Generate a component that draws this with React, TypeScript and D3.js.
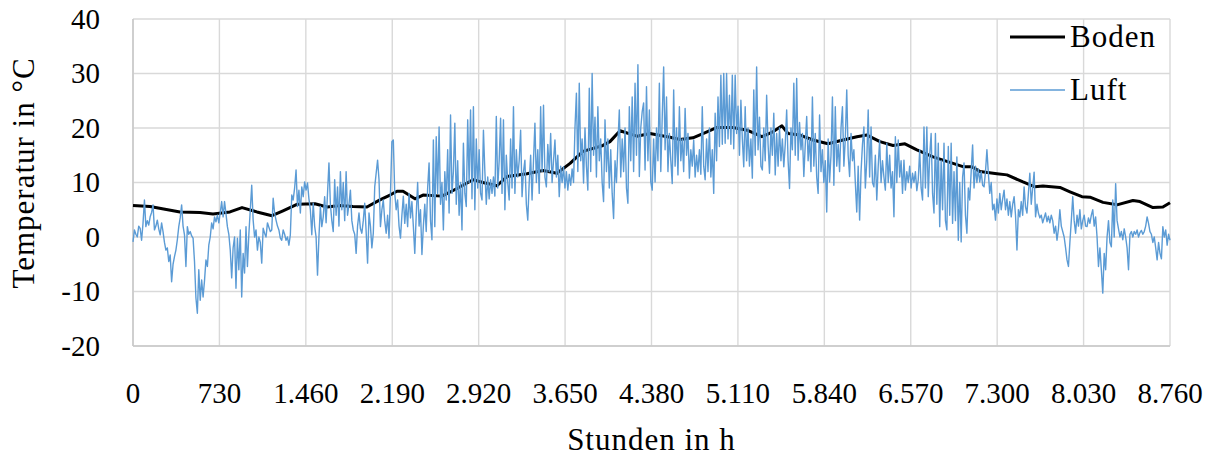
import React, { useMemo } from 'react';
import * as d3 from 'd3';

const WIDTH = 1216,
    HEIGHT = 458;

const MARGIN = {
    LEFT: 133,
    RIGHT: 46,
    TOP: 19,
    BOTTOM: 112
};

const FONT = '"Liberation Serif", "Times New Roman", serif';

// x axis: hours of the year, y axis: temperature in °C
const xTicks = [0, 730, 1460, 2190, 2920, 3650, 4380, 5110, 5840, 6570, 7300, 8030, 8760];
const yTicks = [-20, -10, 0, 10, 20, 30, 40];

const seriesNames = ['Boden', 'Luft'];
const seriesColors = ['#000000', '#5B9BD5'];

// soil temperature (hour, °C)
const bodenHours = [
    0, 144, 397, 566, 676, 819, 921, 1047, 1174, 1267, 1385, 1537, 1639, 1748, 1858, 1976,
    2086, 2171, 2230, 2281, 2382, 2450, 2610, 2737, 2872, 2957, 3075, 3159, 3328, 3463, 3582,
    3692, 3801, 3970, 4029, 4114, 4257, 4367, 4536, 4621, 4730, 4849, 4933, 5068, 5187, 5313,
    5406, 5482, 5533, 5634, 5744, 5871, 5998, 6115, 6200, 6310, 6420, 6521, 6622, 6758, 6901,
    7011, 7087, 7155, 7298, 7383, 7518, 7619, 7687, 7830, 7915, 8016, 8084, 8194, 8312, 8447,
    8506, 8616, 8700, 8760
];
const bodenTemps = [
    5.8, 5.6, 4.6, 4.5, 4.2, 4.6, 5.4, 4.6, 3.9, 4.8, 6.0, 6.1, 5.5, 5.8, 5.6, 5.5,
    6.8, 7.7, 8.4, 8.4, 7.0, 7.7, 7.5, 8.9, 10.5, 10.0, 9.4, 11.1, 11.6, 12.2, 11.7,
    13.5, 15.7, 16.8, 17.5, 19.5, 18.5, 19.0, 18.3, 17.9, 18.2, 19.3, 20.1, 20.1, 19.6, 18.4,
    19.3, 20.4, 19.0, 18.7, 17.8, 17.1, 17.8, 18.4, 18.7, 17.5, 16.8, 17.1, 16.0, 14.7, 13.7,
    12.9, 12.9, 12.0, 11.6, 11.4, 10.1, 9.2, 9.35, 9.1, 8.3, 7.4, 7.3, 6.35, 5.9, 6.7,
    6.5, 5.4, 5.5, 6.3
];

// air temperature, roughly two readings a day (°C)
const luftTemps = [
    -0.9, 1.3, 0.5, 0, 2.0, 1.6, -0.6, 2.5, 6.8, 1.9, 3.0, 2.2, 3.7, 4.5,
    5.9, 1.3, 2.0, 3.1, 1.5, 0.4, 2.6, 1.0, -1.0, -2.4, -2.0, -4.5, -3.3, -8.2,
    -5.0, -3.6, -2.4, -0.5, 1.9, 3.5, 5.9, 2.0, 0.4, -5.4, 1.9, 0.5, 1.0, 0.2,
    -0.2, -4.5, -11.2, -14.0, -6.0, -11.6, -7.9, -11.0, -8.0, -4.2, -5.4, -1.5, 0.0, 2.6,
    1.5, 3.7, 2.8, 4.0, 2.6, 4.5, 6.5, 3.7, 6.5, 4.3, 1.9, 0.5, -2.4, -7.5,
    -2.0, 0.0, -9.4, -0.2, -6.0, 1.3, -11.0, -3.0, -6.6, 1.9, -5.4, 0.5, 5.0, 9.5,
    3.1, 0.0, 1.3, -2.4, 0.0, -1.0, -4.8, 1.6, 0.7, 0.0, 2.6, 1.8, 1.0, 1.3,
    7.1, 4.4, 3.1, 2.0, 1.3, -0.2, -0.6, 1.3, 0.5, -0.6, 0.0, -1.5, 0.4, 7.7,
    6.8, 9.0, 12.3, 5.6, 8.6, 4.4, 9.2, 7.4, 10.1, 8.6, 9.9, 7.0, 5.0, 0.4,
    6.2, 2.0, 0.0, -7.0, 0.0, 5.6, 1.9, 3.7, 7.4, 2.6, 8.0, 13.6, 6.0, 3.0,
    1.0, 10.5, 4.0, 9.2, 2.0, 12.0, 5.0, 10.0, 3.0, 12.0, 4.0, 6.0, 8.6, 3.0,
    1.3, 0.5, -3.0, 2.0, 4.4, 1.5, 0.7, 3.0, 6.2, 1.0, -4.8, 4.4, 2.0, -2.0,
    0.7, 9.2, 11.7, 14.1, 10.5, 1.9, 5.0, 6.8, 3.0, 0.7, 4.0, -0.2, 8.0, 17.5,
    17.8, 8.0, 5.0, 6.8, 2.0, -0.2, 4.0, 7.5, 2.5, 6.0, 1.9, 8.0, 3.5, 6.5,
    2.0, -3.0, 4.0, 10.0, 2.0, 5.0, -3.2, 2.0, 6.0, 1.0, 9.0, 13.6, 3.0, -0.5,
    17.8, 1.9, 18.4, 8.0, 20.2, 6.0, 10.0, 1.3, 12.0, 6.8, 16.0, 4.4, 22.4, 8.0,
    12.0, 20.9, 6.0, 14.0, 4.0, 10.0, 1.3, 17.2, 8.0, 5.6, 21.5, 10.0, 23.3, 7.0,
    23.9, 5.0, 18.0, 9.0, 16.0, 8.0, 6.8, 19.6, 12.0, 6.0, 11.0, 7.0, 10.5, 8.0,
    11.0, 7.5, 22.1, 9.0, 14.0, 21.8, 8.0, 21.5, 5.0, 15.0, 10.0, 6.8, 18.0, 9.0,
    23.9, 8.0, 16.0, 11.0, 14.0, 19.6, 7.4, 12.0, 14.1, 6.0, 3.1, 10.0, 15.0, 6.8,
    14.0, 20.9, 10.0, 16.0, 8.0, 23.9, 12.0, 24.2, 11.0, 9.2, 17.0, 12.0, 19.0, 10.0,
    14.0, 17.8, 11.0, 15.0, 7.4, 13.0, 10.0, 12.9, 9.0, 12.0, 8.6, 11.5, 9.5, 12.5,
    10.0, 20.0, 26.4, 12.0, 28.2, 14.0, 18.0, 9.9, 20.0, 13.0, 8.6, 27.3, 12.0, 30.0,
    15.0, 22.0, 11.0, 23.9, 14.0, 18.0, 10.0, 6.5, 21.5, 12.0, 18.0, 9.0, 16.0, 8.0,
    3.4, 14.0, 10.0, 17.0, 23.3, 11.0, 18.0, 12.0, 20.0, 9.0, 6.2, 23.9, 14.0, 25.7,
    12.0, 28.2, 15.0, 31.6, 11.1, 20.0, 23.0, 24.6, 12.3, 27.6, 14.0, 23.3, 10.1, 8.6,
    18.0, 10.1, 20.0, 14.0, 28.2, 12.0, 22.0, 31.2, 16.0, 25.7, 12.0, 19.0, 14.0, 9.8,
    27.0, 13.0, 20.0, 11.4, 23.9, 14.0, 18.0, 12.0, 23.6, 15.0, 19.0, 10.8, 16.0, 13.0,
    17.8, 11.0, 15.0, 12.0, 16.0, 11.5, 23.9, 13.0, 10.5, 18.0, 12.0, 20.0, 11.0, 16.0,
    8.0, 22.7, 14.0, 25.7, 16.6, 29.7, 17.0, 30.0, 17.2, 30.0, 18.0, 26.0, 17.0, 29.7,
    16.2, 29.7, 19.0, 24.0, 15.0, 25.1, 18.0, 12.9, 23.9, 14.0, 20.0, 13.0, 18.0, 10.8,
    27.0, 15.0, 31.2, 16.0, 22.0, 13.0, 12.3, 20.0, 14.0, 26.0, 17.0, 11.7, 20.0, 15.0,
    22.7, 11.4, 19.0, 13.0, 20.0, 14.0, 18.0, 12.9, 17.0, 23.3, 14.0, 8.9, 20.0, 16.0,
    28.2, 15.0, 29.1, 14.1, 21.0, 16.0, 19.0, 11.1, 17.0, 22.1, 14.0, 18.0, 12.0, 25.7,
    13.0, 19.0, 11.0, 8.0, 22.4, 12.0, 16.0, 10.0, 14.0, 4.6, 18.0, 10.1, 15.0, 25.7,
    9.5, 23.9, 13.0, 17.0, 12.0, 20.0, 23.9, 13.0, 18.0, 27.0, 15.0, 11.1, 19.0, 14.0,
    16.0, 10.0, 4.6, 13.0, 3.1, 12.0, 17.0, 20.2, 9.0, 14.0, 23.3, 11.0, 20.2, 10.0,
    9.2, 15.0, 6.8, 13.0, 17.8, 10.0, 14.0, 11.0, 8.6, 17.2, 10.0, 15.0, 9.0, 12.0,
    3.7, 18.4, 10.0, 17.8, 11.0, 14.0, 8.0, 14.1, 8.6, 12.0, 10.0, 13.0, 9.0, 11.7,
    10.0, 12.0, 8.5, 10.5, 16.0, 9.0, 6.8, 20.2, 9.0, 20.2, 7.4, 15.0, 19.0, 8.0,
    4.4, 19.0, 6.0, 17.2, 1.9, 14.0, 5.0, 17.2, 3.0, 1.3, 16.6, 4.0, 17.2, 2.5,
    12.0, 3.0, 14.7, -0.6, 10.0, -0.9, 11.0, 13.6, 4.0, 0.7, 9.0, 6.8, 12.0, 16.9,
    9.0, 13.0, 10.0, 12.5, 10.1, 12.0, 9.5, 9.2, 12.0, 16.0, 11.7, 8.0, 10.0, 5.0,
    6.0, 3.1, 7.0, 4.4, 8.0, 5.0, 7.0, 8.6, 5.0, 7.0, 4.0, 6.5, 3.7, 6.0,
    7.4, 4.0, -2.4, 5.0, 3.7, 6.5, 4.0, 9.2, 5.5, 4.4, 8.0, 11.7, 6.0, 9.0,
    11.9, 3.7, 6.0, 4.4, 3.5, 4.0, 2.6, 3.5, 4.4, 2.8, 3.8, 2.6, 4.0, 3.0,
    0.7, 2.0, -0.6, 1.5, 5.0, 2.0, 1.0, 0.0, -2.0, -4.2, -5.4, -1.0, 3.0, 7.4,
    3.0, 0.7, 4.0, 2.0, 5.0, 1.5, 3.0, 4.0, 2.0, 1.9, 3.5, 2.5, 4.0, 5.0,
    2.0, 3.7, 0.0, -5.4, -2.0, -6.0, -10.3, -3.0, -6.0, 0.0, 3.0, -1.0, -1.8, 6.8,
    0.0, 9.8, 3.0, 1.5, 0.0, 1.0, -0.5, 1.5, 0.0, -2.0, -6.0, 0.5, 1.0, 0.0,
    1.0, 0.5, 1.3, 0.0, 0.8, 1.2, 0.5, 1.0, 2.0, 3.7, 2.5, 1.0, 0.5, -1.0,
    0.0, -2.0, -4.2, -1.0, -3.0, -4.0, 1.9, 0.0, 1.3, -1.5, 0.5, -0.6
];

const deLocale = d3.formatLocale({ decimal: ',', thousands: '.', grouping: [3], currency: ['', ' €'] });
const formatHours = deLocale.format(',.0f');

export default function App() {
    const innerWidth = WIDTH - MARGIN.LEFT - MARGIN.RIGHT,
        innerHeight = HEIGHT - MARGIN.TOP - MARGIN.BOTTOM;

    const xScale = useMemo(() => d3.scaleLinear().domain([0, 8760]).range([0, innerWidth]), [innerWidth]),
        yScale = useMemo(() => d3.scaleLinear().domain([-20, 40]).range([innerHeight, 0]), [innerHeight]);

    const luftStep = 8760 / (luftTemps.length - 1);

    const bodenPath = useMemo(() => d3.line<number>()
        .x((_, i) => xScale(bodenHours[i]))
        .y(t => yScale(t))(bodenTemps), [xScale, yScale]);

    const luftPath = useMemo(() => d3.line<number>()
        .x((_, i) => xScale(i * luftStep))
        .y(t => yScale(t))(luftTemps), [xScale, yScale, luftStep]);

    return (
        <svg width={WIDTH} height={HEIGHT} style={{ position: 'absolute', left: 0, top: 0, background: '#fff' }}
            fontFamily={FONT}>
            <g transform={`translate(${[MARGIN.LEFT, MARGIN.TOP]})`}>
                {/* grid */}
                <g stroke='#d9d9d9' strokeWidth={1.4}>
                    {yTicks.map(t => <line key={`gy-${t}`} x1={0} x2={innerWidth} y1={yScale(t)} y2={yScale(t)} />)}
                    {xTicks.map(t => <line key={`gx-${t}`} x1={xScale(t)} x2={xScale(t)} y1={0} y2={innerHeight} />)}
                </g>
                <line x1={0} x2={0} y1={0} y2={innerHeight} stroke='#c8c8c8' strokeWidth={1.5} />
                <line x1={0} x2={innerWidth} y1={innerHeight} y2={innerHeight} stroke='#c8c8c8' strokeWidth={1.5} />

                {/* y tick labels */}
                <g fontSize={29} textAnchor='end' fill='#000'>
                    {yTicks.map(t => <text key={`ty-${t}`} x={-33} y={yScale(t)} dy='0.34em'>{t}</text>)}
                </g>
                {/* x tick labels */}
                <g fontSize={29} textAnchor='middle' fill='#000'>
                    {xTicks.map(t => <text key={`tx-${t}`} x={xScale(t)} y={innerHeight + 57}>{formatHours(t)}</text>)}
                </g>

                {/* series */}
                <path d={bodenPath || ''} fill='none' stroke={seriesColors[0]} strokeWidth={3} strokeLinejoin='round' />
                <path d={luftPath || ''} fill='none' stroke={seriesColors[1]} strokeWidth={1.4} strokeLinejoin='round' />
            </g>

            {/* axis titles */}
            <text x={MARGIN.LEFT + innerWidth / 2} y={450} textAnchor='middle' fontSize={31} letterSpacing={1}>Stunden in h</text>
            <text transform={`translate(34, 173) rotate(-90)`} textAnchor='middle' fontSize={31} letterSpacing={1}>Temperatur in °C</text>

            {/* legend */}
            <g>
                {seriesNames.map((name, i) => (
                    <g key={name} transform={`translate(1010, ${37 + i * 53})`}>
                        <line x1={0} x2={55} y1={0} y2={0} stroke={seriesColors[i]} strokeWidth={i === 0 ? 3 : 1.4} />
                        <text x={60} y={10} fontSize={31} letterSpacing={1}>{name}</text>
                    </g>
                ))}
            </g>
        </svg>
    );
}
